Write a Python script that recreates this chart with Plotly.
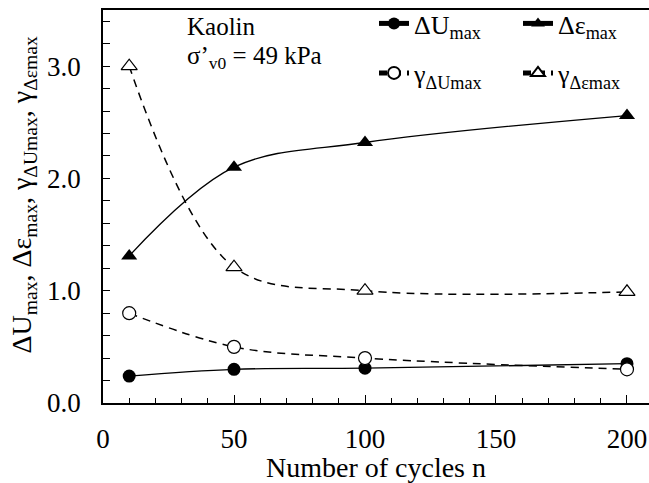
import plotly.graph_objects as go

cycles = [10, 50, 100, 200]
dU_max = [0.24, 0.30, 0.31, 0.35]
de_max = [1.31, 2.10, 2.32, 2.56]
g_dU = [0.80, 0.50, 0.40, 0.30]
g_de = [3.00, 1.21, 1.00, 0.99]

FONT = "Liberation Serif, Times New Roman, Times, serif"
W, H = 649, 483
ML, MR, MT, MB = 103, 0, 9, 80
PW, PH = W - ML - MR, H - MT - MB

def px_x(p):
    return (p - ML) / PW

def px_y(p):
    return (H - MB - p) / PH

fig = go.Figure()
fig.add_trace(go.Scatter(
    x=cycles, y=dU_max, mode="lines+markers", name="ΔU<sub>max</sub>",
    line=dict(color="black", width=1.3, shape="spline"),
    marker=dict(symbol="circle", size=13, color="black"),
    legend="legend"))
fig.add_trace(go.Scatter(
    x=cycles, y=de_max, mode="lines+markers", name="Δε<sub>max</sub>",
    line=dict(color="black", width=1.3, shape="spline"),
    marker=dict(symbol="triangle-up", size=14, color="black"),
    legend="legend2"))
fig.add_trace(go.Scatter(
    x=cycles, y=g_dU, mode="lines+markers", name="γ<sub>ΔUmax</sub>",
    line=dict(color="black", width=1.5, shape="spline", dash="8px,6px"),
    marker=dict(symbol="circle", size=13, color="white",
                line=dict(color="black", width=1.2)),
    legend="legend3"))
fig.add_trace(go.Scatter(
    x=cycles, y=g_de, mode="lines+markers", name="γ<sub>Δεmax</sub>",
    line=dict(color="black", width=1.5, shape="spline", dash="8px,6px"),
    marker=dict(symbol="triangle-up", size=14, color="white",
                line=dict(color="black", width=1.2)),
    legend="legend4"))

legend_common = dict(
    orientation="v", xanchor="left", yanchor="middle",
    font=dict(family=FONT, size=26, color="black"),
    bgcolor="rgba(0,0,0,0)", itemsizing="constant")

COL1, COL2 = 374, 518
ROW1, ROW2 = 23, 73

fig.update_layout(
    width=W, height=H,
    margin=dict(l=ML, r=MR, t=MT, b=MB),
    paper_bgcolor="white", plot_bgcolor="white",
    font=dict(family=FONT, size=26, color="black"),
    showlegend=True,
    legend=dict(x=px_x(COL1), y=px_y(ROW1), **legend_common),
    legend2=dict(x=px_x(COL2), y=px_y(ROW1), **legend_common),
    legend3=dict(x=px_x(COL1), y=px_y(ROW2), **legend_common),
    legend4=dict(x=px_x(COL2), y=px_y(ROW2), **legend_common),
    xaxis=dict(
        range=[0, 208.4], dtick=50, tick0=0,
        ticks="inside", ticklen=8, tickwidth=1.2, tickcolor="black",
        minor=dict(dtick=10, ticks="inside", ticklen=5, tickwidth=1.2, tickcolor="black"),
        showline=True, linecolor="black", linewidth=1.5, mirror=True,
        showgrid=False, zeroline=False, automargin=False,
        tickfont=dict(family=FONT, size=27), ticklabelstandoff=11,
        title=dict(text="Number of cycles n", font=dict(family=FONT, size=28), standoff=6),
    ),
    yaxis=dict(
        range=[0, 3.5], dtick=1.0, tick0=0, tickformat=".1f",
        ticks="inside", ticklen=7, tickwidth=1.2, tickcolor="black",
        minor=dict(dtick=0.2, ticks="inside", ticklen=7, tickwidth=1.2, tickcolor="black"),
        showline=True, linecolor="black", linewidth=1.5, mirror=False,
        showgrid=False, zeroline=False, automargin=False,
        tickfont=dict(family=FONT, size=27), ticklabelstandoff=15,
    ),
    annotations=[
        dict(text="ΔU<sub>max</sub>, Δε<sub>max</sub>, γ<sub>ΔUmax</sub>, γ<sub>Δεmax</sub>",
             xref="paper", yref="paper", x=px_x(24), y=px_y(195),
             xanchor="center", yanchor="middle", textangle=-90, showarrow=False,
             font=dict(family=FONT, size=28, color="black")),
        dict(text="Kaolin", xref="paper", yref="paper", x=px_x(185), y=px_y(26),
             xanchor="left", yanchor="middle", showarrow=False,
             font=dict(family=FONT, size=25, color="black")),
        dict(text="σ’<sub>v0</sub> = 49 kPa", xref="paper", yref="paper", x=px_x(185), y=px_y(57),
             xanchor="left", yanchor="middle", showarrow=False,
             font=dict(family=FONT, size=25, color="black")),
    ],
)

fig.write_html("out.html")
